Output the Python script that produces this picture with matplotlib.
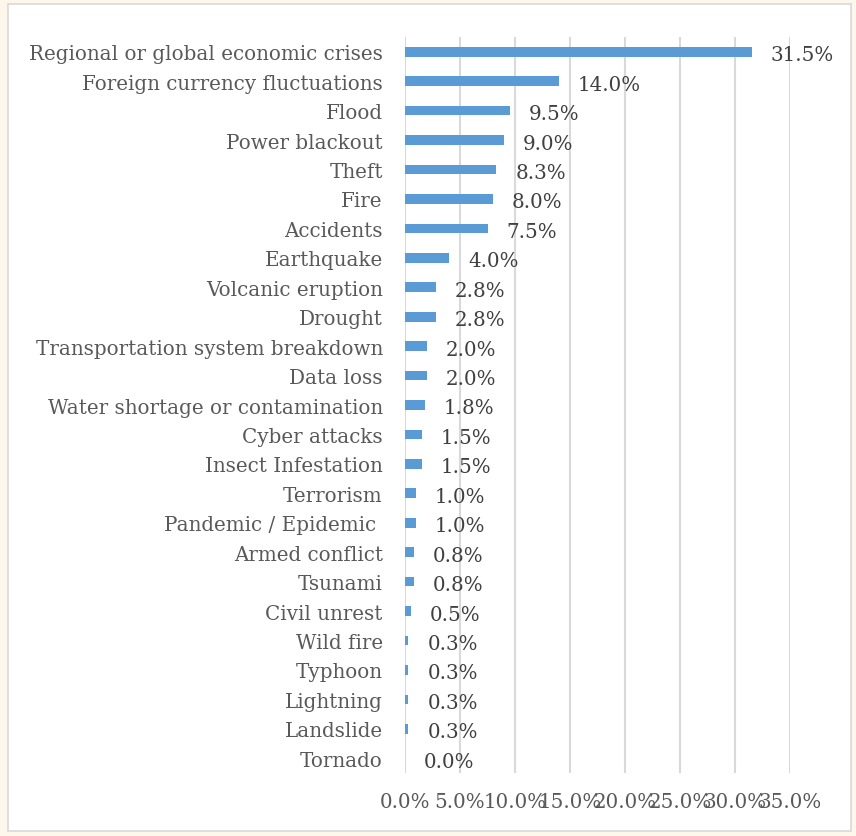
import matplotlib
matplotlib.use("Agg")
import matplotlib.pyplot as plt
from matplotlib.patches import Rectangle

# data (top to bottom as shown)
risks = ["Regional or global economic crises", "Foreign currency fluctuations", "Flood",
         "Power blackout", "Theft", "Fire", "Accidents", "Earthquake", "Volcanic eruption",
         "Drought", "Transportation system breakdown", "Data loss",
         "Water shortage or contamination", "Cyber attacks", "Insect Infestation",
         "Terrorism", "Pandemic / Epidemic ", "Armed conflict", "Tsunami", "Civil unrest",
         "Wild fire", "Typhoon", "Lightning", "Landslide", "Tornado"]
share = [31.5, 14.0, 9.5, 9.0, 8.3, 8.0, 7.5, 4.0, 2.8, 2.8, 2.0, 2.0, 1.8, 1.5, 1.5,
         1.0, 1.0, 0.8, 0.8, 0.5, 0.3, 0.3, 0.3, 0.3, 0.0]
xticks = [0, 5, 10, 15, 20, 25, 30, 35]

plt.rcParams['font.family'] = ['DejaVu Serif']
txt = '#595959'
fs = 14.3

fig = plt.figure(figsize=(8.56, 8.37), dpi=100)
fig.patch.set_facecolor('#fdf6ea')
fig.patches.append(Rectangle((8/856, 5/837), 843/856, 827/837, transform=fig.transFigure,
                             facecolor='white', edgecolor='#d9d9d9', linewidth=1.2, zorder=-5))

ax = fig.add_axes([405/856, 1-774/837, 385/856, 736/837])
ax.set_zorder(5)
ax.set_facecolor('none')
y = list(range(len(risks)))
ax.barh(y, share, height=0.33, color='#5b9bd5', zorder=3)
for yi, v in zip(y, share):
    ax.annotate(f"{v:.1f}%", (v, yi), xytext=(19, -3), textcoords='offset pixels',
                va='center', ha='left', fontsize=fs, color='#404040')

ax.set_ylim(len(risks) - 0.5, -0.5)
ax.set_xlim(0, 35)
ax.set_yticks(y)
ax.set_yticklabels(risks, fontsize=fs, color=txt)
ax.set_xticks(xticks)
ax.set_xticklabels([f"{t:.1f}%" for t in xticks], fontsize=fs, color=txt)
ax.tick_params(length=0)
ax.tick_params(axis='x', pad=14)
ax.tick_params(axis='y', pad=16)
ax.grid(axis='x', color='#d9d9d9', linewidth=1.5, zorder=0)
for s in ax.spines.values():
    s.set_visible(False)

plt.savefig('out.png', dpi=100)
